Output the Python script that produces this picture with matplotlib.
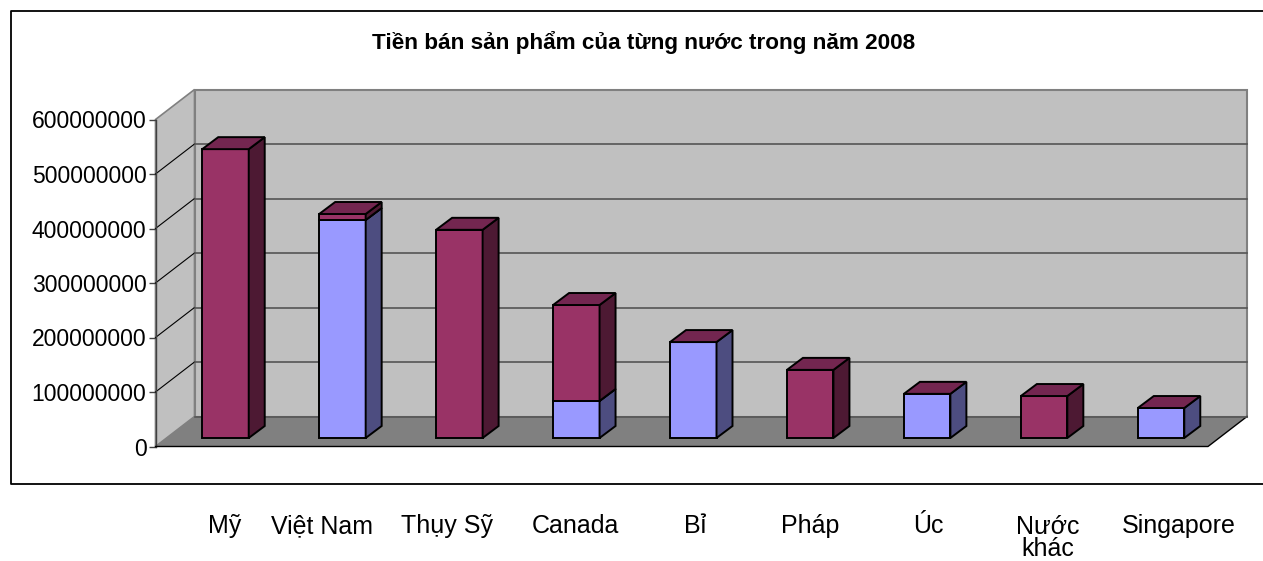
import matplotlib
matplotlib.use('Agg')
import matplotlib.pyplot as plt
from matplotlib.lines import Line2D

plt.rcParams['font.family'] = ['Liberation Sans', 'DejaVu Sans']

countries = ['Mỹ', 'Việt Nam', 'Thụy Sỹ', 'Canada', 'Bỉ', 'Pháp', 'Úc', 'Nước\nkhác', 'Singapore']
# the two stacked series, bottom one first
blue_values = [0, 400000000, 0, 68000000, 176000000, 0, 81000000, 0, 55000000]
maroon_values = [530000000, 11000000, 382000000, 176000000, 0, 125000000, 0, 77000000, 0]
yticks = [0, 100000000, 200000000, 300000000, 400000000, 500000000, 600000000]
title = 'Tiền bán sản phẩm của từng nước trong năm 2008'

W, H = 1263, 561
left, right, y0, y600 = 155.5, 1208.0, 446.5, 119.5

fig = plt.figure(figsize=(W / 100, H / 100), dpi=100)
ax = fig.add_axes([left / W, 1 - y0 / H, (right - left) / W, (y0 - y600) / H])
ax.set_xlim(0, 9)
ax.set_ylim(0, 600000000)
ax.patch.set_visible(False)
for s in ['top', 'right', 'bottom']:
    ax.spines[s].set_visible(False)
ax.spines['left'].set_color('#404040')
ax.spines['left'].set_linewidth(1.0)

# pixel to data factors for the fake 3D depth
kx = 9 / (right - left)
ky = 600000000 / (y0 - y600)
wall_dx, wall_dy = 39 * kx, 30 * ky
bar_dx, bar_dy = 16 * kx, 12 * ky
gap_dx, gap_dy = 11.5 * kx, 8.5 * ky
bar_w = 46.5 * kx

top_max = yticks[-1]
# walls
ax.fill([wall_dx, 9 + wall_dx, 9 + wall_dx, wall_dx],
        [wall_dy, wall_dy, top_max + wall_dy, top_max + wall_dy],
        facecolor='#C0C0C0', edgecolor='#808080', linewidth=1.5, clip_on=False, zorder=1)
ax.fill([0, wall_dx, wall_dx, 0], [0, wall_dy, top_max + wall_dy, top_max],
        facecolor='#C0C0C0', edgecolor='#808080', linewidth=1.2, clip_on=False, zorder=1)
ax.fill([0, 9, 9 + wall_dx, wall_dx], [0, 0, wall_dy, wall_dy],
        facecolor='#808080', edgecolor='none', clip_on=False, zorder=2)
ax.plot([0, 9, 9 + wall_dx], [0, 0, wall_dy], color='black', lw=1.0, clip_on=False, zorder=3)
ax.plot([wall_dx, 9 + wall_dx], [wall_dy, wall_dy], color='#555555', lw=1.2, clip_on=False, zorder=3)

# grid lines
for t in yticks[1:-1]:
    ax.plot([0, wall_dx], [t, t + wall_dy], color='black', lw=0.8, clip_on=False, zorder=2)
    ax.plot([wall_dx, 9 + wall_dx], [t + wall_dy, t + wall_dy], color='#555555', lw=1.2,
            clip_on=False, zorder=2)


def draw_segment(x, bottom, height, front, side, top):
    ax.bar(x, height, bottom=bottom, width=bar_w, align='edge', color=front,
           edgecolor='black', linewidth=1.4, clip_on=False, zorder=5)
    ax.fill([x + bar_w, x + bar_w + bar_dx, x + bar_w + bar_dx, x + bar_w],
            [bottom, bottom + bar_dy, bottom + height + bar_dy, bottom + height],
            facecolor=side, edgecolor='black', linewidth=1.4, clip_on=False, zorder=5)
    ax.fill([x, x + bar_w, x + bar_w + bar_dx, x + bar_dx],
            [bottom + height, bottom + height, bottom + height + bar_dy, bottom + height + bar_dy],
            facecolor=top, edgecolor='black', linewidth=1.4, clip_on=False, zorder=5)


for i in range(len(countries)):
    x = i + 0.5 - bar_w / 2 + gap_dx
    b = gap_dy
    if blue_values[i] > 0:
        draw_segment(x, b, blue_values[i], '#9999FF', '#4D4D80', '#732650')
        b += blue_values[i]
    if maroon_values[i] > 0:
        draw_segment(x, b, maroon_values[i], '#993366', '#4D1933', '#732650')

ax.set_xticks([])
ax.set_yticks(yticks)
ax.set_yticklabels([str(t) for t in yticks], fontsize=16.5, color='black')
ax.tick_params(axis='y', length=5, width=1.0, color='#404040', pad=1.5)

# category labels sit at uneven places under the frame
label_px = [225, 322, 447, 575, 695, 810, 928, 1048, 1179]
label_top = [514, 514, 514, 514, 514, 514, 514, 515, 514]
for name, px, py in zip(countries, label_px, label_top):
    fig.text(px / W, 1 - py / H, name, ha='center', va='top', fontsize=18,
             linespacing=0.9, color='black')

fig.text(644 / W, 1 - 42 / H, title, ha='center', va='center', fontsize=16.2, fontweight='bold')

# chart frame, its right side runs off the image
fx0, fy0, fy1 = 10.5 / W, 1 - 10.5 / H, 1 - 483.5 / H
fig.add_artist(Line2D([1, fx0, fx0, 1], [fy0, fy0, fy1, fy1], color='black', lw=1.3))

fig.savefig('out.png', dpi=100)
